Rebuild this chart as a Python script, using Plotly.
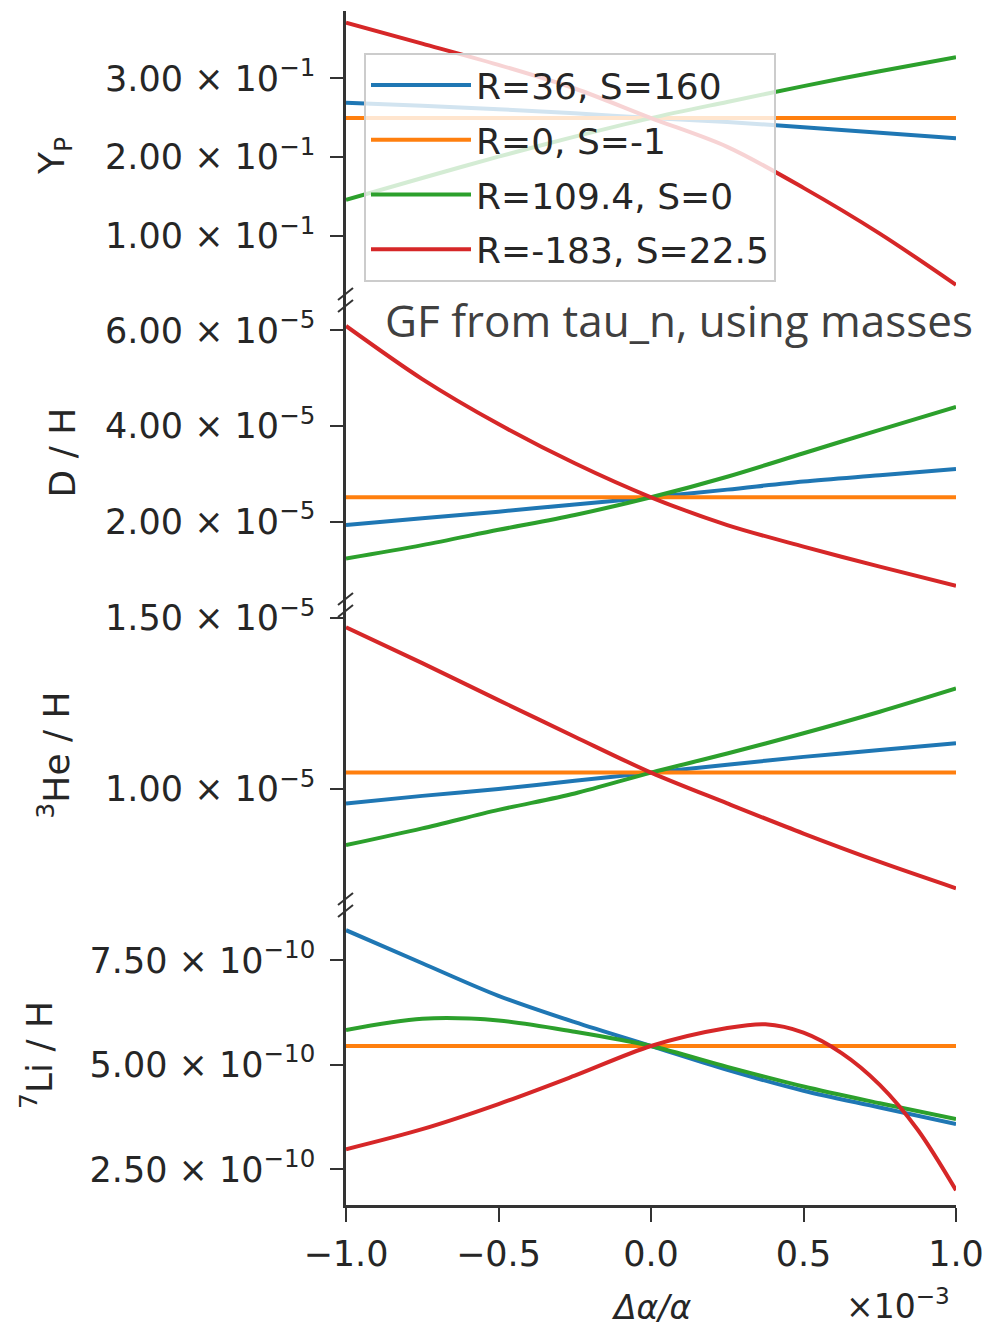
import plotly.graph_objects as go
from plotly.subplots import make_subplots

# ---------------- data ----------------
x_vals = [-1.0e-3, -0.75e-3, -0.5e-3, -0.25e-3, 0.0, 0.25e-3, 0.5e-3, 0.75e-3, 1.0e-3]
x_li_red = [-1.0e-3, -0.75e-3, -0.5e-3, -0.25e-3, 0.0, 0.25e-3, 0.375e-3, 0.5e-3,
            0.625e-3, 0.75e-3, 0.875e-3, 1.0e-3]

series_names = ["R=36, S=160", "R=0, S=-1", "R=109.4, S=0", "R=-183, S=22.5"]
series_colors = ["#1f77b4", "#ff7f0e", "#2ca02c", "#d62728"]

# Y_P
yp_blue = [0.269, 0.265, 0.2607, 0.2555, 0.2495, 0.2445, 0.238, 0.231, 0.224]
yp_orange = [0.2495] * 9
yp_green = [0.1457, 0.1735, 0.2006, 0.226, 0.2495, 0.270, 0.290, 0.309, 0.3266]
yp_red = [0.3705, 0.344, 0.317, 0.287, 0.2495, 0.213, 0.161, 0.103, 0.038]

# D / H
dh_blue = [1.93e-5, 2.07e-5, 2.21e-5, 2.36e-5, 2.51e-5, 2.67e-5, 2.84e-5, 2.97e-5, 3.10e-5]
dh_orange = [2.51e-5] * 9
dh_green = [1.23e-5, 1.51e-5, 1.83e-5, 2.14e-5, 2.51e-5, 2.94e-5, 3.43e-5, 3.92e-5, 4.40e-5]
dh_red = [6.09e-5, 4.98e-5, 4.04e-5, 3.22e-5, 2.51e-5, 1.93e-5, 1.48e-5, 1.06e-5, 0.66e-5]

# 3He / H
he_blue = [0.958e-5, 0.980e-5, 1.000e-5, 1.024e-5, 1.048e-5, 1.071e-5, 1.094e-5, 1.114e-5, 1.134e-5]
he_orange = [1.048e-5] * 9
he_green = [0.836e-5, 0.885e-5, 0.939e-5, 0.987e-5, 1.048e-5, 1.104e-5, 1.163e-5, 1.226e-5, 1.294e-5]
he_red = [1.473e-5, 1.368e-5, 1.260e-5, 1.153e-5, 1.048e-5, 0.958e-5, 0.870e-5, 0.787e-5, 0.710e-5]

# 7Li / H
li_blue = [8.22e-10, 7.43e-10, 6.65e-10, 6.02e-10, 5.45e-10, 4.88e-10, 4.38e-10, 3.98e-10, 3.58e-10]
li_orange = [5.45e-10] * 9
li_green = [5.83e-10, 6.10e-10, 6.06e-10, 5.79e-10, 5.45e-10, 4.95e-10, 4.48e-10, 4.08e-10, 3.70e-10]
li_red = [2.98e-10, 3.46e-10, 4.06e-10, 4.74e-10, 5.45e-10, 5.88e-10, 5.97e-10, 5.77e-10,
          5.28e-10, 4.52e-10, 3.44e-10, 2.00e-10]

x_ticks = [-1.0e-3, -0.5e-3, 0.0, 0.5e-3, 1.0e-3]
x_ticktext = ["\u22121.0", "\u22120.5", "0.0", "0.5", "1.0"]

yp_ticks = [0.1, 0.2, 0.3]
yp_ticktext = ["1.00 \u00d7 10<sup>\u22121</sup>", "2.00 \u00d7 10<sup>\u22121</sup>", "3.00 \u00d7 10<sup>\u22121</sup>"]
dh_ticks = [2e-5, 4e-5, 6e-5]
dh_ticktext = ["2.00 \u00d7 10<sup>\u22125</sup>", "4.00 \u00d7 10<sup>\u22125</sup>", "6.00 \u00d7 10<sup>\u22125</sup>"]
he_ticks = [1.0e-5, 1.5e-5]
he_ticktext = ["1.00 \u00d7 10<sup>\u22125</sup>", "1.50 \u00d7 10<sup>\u22125</sup>"]
li_ticks = [2.5e-10, 5.0e-10, 7.5e-10]
li_ticktext = ["2.50 \u00d7 10<sup>\u221210</sup>", "5.00 \u00d7 10<sup>\u221210</sup>", "7.50 \u00d7 10<sup>\u221210</sup>"]

panel_titles = ["Y<sub>P</sub>", "D / H", "<sup>3</sup>He / H", "<sup>7</sup>Li / H"]
panel_ranges = [[0.0188, 0.3853], [0.259e-5, 6.633e-5], [0.661e-5, 1.538e-5], [1.646e-10, 8.823e-10]]
title_standoffs = [30, 19, 25, 26]

# ---------------- layout geometry (page pixels) ----------------
OFF = 8                      # default body margin of the html page
W, H = 990 - OFF, 1328 - OFF
L, R, T, B = 346, 956, 11, 1205
PW, PH = R - L, B - T
bounds = [T, 300, 605, 905, B]


def fx(px):
    return (px - L) / PW


def fy(py):
    return (B - py) / PH


fig = make_subplots(rows=4, cols=1, shared_xaxes=True, vertical_spacing=0)

FONT = "DejaVu Sans"
INK = "#262626"
SPINE = "#333333"

panels = [
    (yp_blue, yp_orange, yp_green, yp_red),
    (dh_blue, dh_orange, dh_green, dh_red),
    (he_blue, he_orange, he_green, he_red),
    (li_blue, li_orange, li_green, li_red),
]

for r, vals in enumerate(panels, start=1):
    for k, (name, color, yv) in enumerate(zip(series_names, series_colors, vals)):
        xv = x_li_red if (r == 4 and k == 3) else x_vals
        fig.add_trace(
            go.Scatter(
                x=xv, y=yv, mode="lines", name=name,
                line=dict(color=color, width=4, shape="spline", smoothing=0.9),
                showlegend=(r == 1), legendgroup=name,
            ),
            row=r, col=1,
        )

tick_sets = [(yp_ticks, yp_ticktext), (dh_ticks, dh_ticktext), (he_ticks, he_ticktext), (li_ticks, li_ticktext)]

for r in range(1, 5):
    dom = [fy(bounds[r]), fy(bounds[r - 1])]
    tv, tt = tick_sets[r - 1]
    fig.update_yaxes(
        domain=dom, range=panel_ranges[r - 1], tickvals=tv, ticktext=tt,
        showline=True, linecolor=SPINE, linewidth=2.5, mirror=False,
        ticks="outside", ticklen=13, tickwidth=2, tickcolor=SPINE,
        showgrid=False, zeroline=False,
        tickfont=dict(family=FONT, size=35, color=INK),
        ticklabelstandoff=8,
        title=dict(text=panel_titles[r - 1], font=dict(family=FONT, size=36, color=INK),
                   standoff=title_standoffs[r - 1]),
        row=r, col=1,
    )
    fig.update_xaxes(
        range=[-1.0e-3, 1.0e-3], showgrid=False, zeroline=False,
        row=r, col=1,
    )
    if r < 4:
        fig.update_xaxes(showline=False, ticks="", showticklabels=False, row=r, col=1)

fig.update_xaxes(
    showline=True, linecolor=SPINE, linewidth=2.5,
    ticks="outside", ticklen=14, tickwidth=2, tickcolor=SPINE,
    tickvals=x_ticks, ticktext=x_ticktext,
    tickfont=dict(family=FONT, size=35, color=INK),
    ticklabelstandoff=2,
    row=4, col=1,
)

# break marks on the left spine
shapes = []
for b in bounds[1:4]:
    for off in (-6, 6):
        shapes.append(dict(
            type="line", xref="paper", yref="paper",
            x0=fx(338), y0=fy(b + off + 6), x1=fx(353), y1=fy(b + off - 6),
            line=dict(color=SPINE, width=2),
        ))

annotations = [
    dict(text="GF from tau_n, using masses", xref="paper", yref="paper",
         x=fx(383), y=fy(320), xanchor="left", yanchor="middle", showarrow=False,
         font=dict(family="Open Sans", size=44, color="#404040")),
    dict(text="<i>\u0394\u03b1/\u03b1</i>", xref="paper", yref="paper",
         x=fx(651), y=fy(1307), xanchor="center", yanchor="middle", showarrow=False,
         font=dict(family=FONT, size=33, color=INK)),
    dict(text="\u00d710<sup>\u22123</sup>", xref="paper", yref="paper",
         x=fx(952), y=fy(1304), xanchor="right", yanchor="middle", showarrow=False,
         font=dict(family=FONT, size=33, color=INK)),
]

fig.update_layout(
    width=W, height=H,
    margin=dict(l=L - OFF, r=W - (R - OFF), t=T - OFF, b=H - (B - OFF), autoexpand=False),
    paper_bgcolor="white", plot_bgcolor="white",
    shapes=shapes, annotations=annotations,
    legend=dict(
        x=fx(364), y=fy(53), xanchor="left", yanchor="top",
        bgcolor="rgba(255,255,255,0.8)", bordercolor="#cccccc", borderwidth=2,
        font=dict(family=FONT, size=36, color=INK),
        itemwidth=100, tracegroupgap=5,
    ),
)

fig.write_html("out.html")
